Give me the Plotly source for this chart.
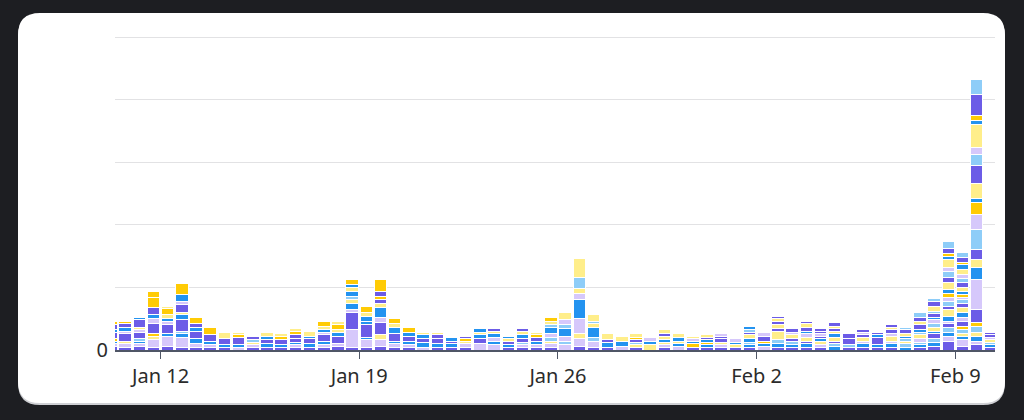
import pandas as pd
import plotly.graph_objects as go

# 12-hour buckets, each bar centred in its bucket (06:00 / 18:00)
bucket_mid = pd.date_range("2025-01-10 06:00", periods=63, freq="12h")

tick_dates = ["2025-01-12", "2025-01-19", "2025-01-26", "2025-02-02", "2025-02-09"]
tick_labels = ["Jan 12", "Jan 19", "Jan 26", "Feb 2", "Feb 9"]

y_ticks = [0, 50, 100, 150, 200, 250]
y_labels = ["0", "", "", "", "", ""]

# palette
P = "#6c5ce7"   # purple
L = "#d6c8fb"   # lavender
Y = "#ffee8a"   # light yellow
G = "#ffcb05"   # gold
B = "#2393f0"   # blue
C = "#8ecdf8"   # light blue

# series, bottom of the stack first
s01 = [3,2,3,2,3,2,2,2,2,0, 2,2,2,2,2,2,3,2,2,3, 2,2,0,2,2,2,0,0,2,2, 2,2,0,3,2,2,0,2,0,2, 0,2,2,2,2,2,0,2,2,2, 2,0,2,2,2,2,0,2,3,7, 3,4,2]
s02 = [2,3,2,6,8,8,3,2,0,2, 2,0,0,2,0,2,2,14,6,5, 3,2,2,0,0,3,5,4,0,2, 2,3,4,6,5,0,3,0,0,2, 3,0,0,2,0,0,3,0,0,0, 2,0,0,0,0,0,0,0,0,4, 5,3,0]
s03 = [2,0,2,0,2,3,4,3,2,2, 0,3,2,2,3,3,0,0,2,0, 2,3,4,3,3,0,0,3,2,0, 3,0,0,0,0,4,4,0,0,0, 2,0,2,0,0,2,2,3,2,3, 0,3,0,3,2,3,2,2,3,3, 3,4,2]
s04 = [0,2,0,3,0,0,0,0,0,0, 2,0,0,0,0,0,0,0,0,4, 0,0,0,0,0,2,0,0,0,0, 0,2,0,4,0,0,0,2,4,2, 2,0,0,2,2,0,0,0,0,0, 3,0,0,0,0,0,0,0,0,0, 2,3,0]
s05 = [0,0,2,0,0,2,0,0,0,0, 2,0,0,0,0,0,0,0,0,0, 0,0,0,0,0,0,0,0,0,2, 0,3,3,0,3,0,0,2,0,0, 0,0,0,0,0,2,0,3,3,0, 0,2,2,0,0,0,3,2,3,4, 3,5,2]
s06 = [2,0,0,2,0,0,0,0,0,0, 0,0,0,0,0,0,0,0,0,0, 0,0,0,0,0,2,0,0,0,0, 0,0,0,0,0,0,0,0,0,0, 0,3,2,0,0,0,2,0,0,0, 0,0,0,0,0,0,0,0,0,0, 3,3,0]
s07 = [5,6,5,8,7,9,6,5,5,6, 0,3,4,3,4,5,6,14,10,10, 6,4,3,4,2,0,4,0,3,3, 0,0,0,0,0,2,0,2,0,0, 0,0,0,3,0,0,4,0,2,2, 0,2,0,0,0,0,0,0,4,3, 4,10,0]
s08 = [0,2,2,4,3,0,0,0,0,0, 0,0,0,0,0,2,0,2,0,4, 0,0,0,0,0,0,0,3,0,0, 0,3,4,12,0,0,0,0,0,0, 0,0,0,0,0,0,0,0,0,0, 0,0,0,2,0,2,0,3,0,2, 3,24,0]
s09 = [2,3,0,3,2,4,3,0,0,0, 0,3,0,0,2,2,3,5,3,8, 5,3,3,0,3,0,3,3,0,3, 0,5,6,15,8,0,0,0,3,2, 3,2,2,0,2,3,0,0,0,0, 2,0,0,0,0,0,0,0,2,4, 4,10,0]
s10 = [0,0,2,0,3,2,0,0,0,0, 0,3,0,0,0,3,2,3,0,3, 3,0,0,0,0,0,2,2,2,3, 0,0,0,0,3,5,4,0,0,3, 0,0,0,0,0,3,0,7,3,3, 0,3,0,3,0,4,2,3,3,5, 4,6,2]
s11 = [4,3,6,6,0,6,3,0,0,0, 3,0,0,3,0,0,0,0,0,3, 0,0,0,3,0,2,0,2,0,2, 3,0,0,0,0,0,0,0,0,2, 0,0,2,2,0,2,0,2,0,0, 2,0,5,0,6,0,0,0,0,3, 3,8,0]
s12 = [0,0,0,0,0,0,0,0,0,0, 0,0,0,0,0,0,0,3,0,0, 0,0,0,0,0,0,0,0,0,0, 0,2,3,0,2,0,0,0,0,0, 0,0,0,0,0,2,0,0,0,0, 0,0,0,0,0,0,2,2,3,4, 3,16,0]
s13 = [0,0,0,0,0,3,0,0,0,0, 0,0,0,0,0,0,0,0,0,0, 0,0,0,0,0,0,0,0,0,0, 0,0,4,5,0,0,0,0,3,0, 0,2,0,2,3,0,3,0,2,3, 2,0,0,0,0,2,0,0,3,3, 2,12,2]
s14 = [3,2,0,8,5,0,5,6,0,2, 0,0,3,3,0,4,4,0,0,3, 0,4,0,0,0,0,0,0,0,0, 2,0,0,0,0,0,0,2,0,0, 0,0,0,0,0,0,0,0,0,0, 0,0,0,0,0,0,0,0,0,3, 2,10,0]
s15 = [0,0,2,0,0,5,0,0,0,0, 0,0,0,0,0,0,0,4,4,0, 0,0,0,0,0,0,3,0,2,0, 0,0,0,0,0,0,0,0,0,0, 0,0,0,0,0,3,0,0,0,2, 0,3,0,0,0,0,2,2,2,3, 3,3,0]
s16 = [0,0,0,0,2,0,0,0,5,2, 0,0,2,2,4,0,3,0,3,0, 0,0,2,2,0,0,0,0,0,0, 2,3,6,4,5,0,0,3,0,3, 3,2,2,0,0,0,0,3,0,0, 0,2,0,0,0,0,2,0,0,6, 3,12,0]
s17 = [0,0,0,0,0,0,0,0,0,0, 0,0,0,0,0,0,0,0,0,4, 0,0,0,0,0,0,0,0,0,0, 0,0,0,0,0,0,0,0,0,0, 0,0,0,0,0,0,0,3,3,3, 2,2,0,2,0,3,0,4,3,4, 4,14,2]
s18 = [0,0,0,0,0,0,0,0,0,0, 0,0,0,0,0,0,0,0,0,0, 0,0,0,0,0,0,0,0,0,0, 0,0,0,9,0,0,0,0,0,0, 0,0,0,0,0,0,0,0,0,0, 0,0,0,0,0,0,0,0,2,5, 3,9,0]
s19 = [0,0,0,0,0,0,0,0,0,0, 0,0,0,0,0,0,0,0,0,0, 0,0,0,0,0,0,0,0,0,0, 0,0,0,0,0,0,0,0,0,0, 0,0,0,0,0,0,0,0,0,0, 0,0,0,2,0,0,0,0,0,3, 3,6,0]
s20 = [0,0,0,0,0,0,0,0,0,0, 0,0,0,0,0,0,0,3,0,0, 0,0,0,0,0,0,0,0,0,0, 0,0,0,15,0,0,0,0,0,0, 0,0,0,0,0,0,0,2,0,3, 0,2,0,0,0,2,0,3,4,6, 4,18,0]
s21 = [0,0,0,0,0,0,0,0,0,0, 0,0,0,0,0,0,0,2,0,0, 0,0,0,0,0,0,0,0,0,0, 0,0,0,0,0,0,0,0,0,0, 0,0,0,0,0,0,0,0,0,0, 0,0,0,0,2,0,0,0,0,3, 4,3,0]
s22 = [0,0,0,5,0,9,0,0,0,0, 0,0,0,0,0,0,0,4,5,9, 4,0,0,0,0,0,0,0,0,0, 0,3,0,0,0,0,0,0,0,0, 0,0,0,0,0,0,0,0,0,0, 0,0,0,0,0,0,0,0,0,2, 2,4,0]
s23 = [0,0,0,0,0,0,0,0,0,0, 0,0,0,0,0,0,0,0,0,0, 0,0,0,0,0,0,0,0,0,0, 0,0,0,0,0,0,0,0,0,0, 0,0,0,0,0,0,0,2,0,2, 2,3,4,2,2,2,3,3,4,4, 4,17,2]
s24 = [0,0,0,0,0,0,0,0,0,0, 0,0,0,0,0,0,0,0,0,0, 0,0,0,0,0,0,0,0,0,0, 0,0,0,0,0,0,0,0,0,0, 0,0,0,0,0,0,0,0,0,0, 0,0,0,0,0,0,2,4,2,6, 4,12,0]

series = [s01, s02, s03, s04, s05, s06, s07, s08, s09, s10, s11, s12,
          s13, s14, s15, s16, s17, s18, s19, s20, s21, s22, s23, s24]
series_colors = [P, L, B, Y, C, G, P, L, B, Y, P, C,
                 L, G, B, Y, P, C, L, Y, B, G, P, C]

# plot area in pixels (1024 x 420 page)
PL, PR, PT, PB = 115, 29, 35, 70
PW, PH = 1024 - PL - PR, 420 - PT - PB


def px(x, y):
    """pixel -> paper coords"""
    return (x - PL) / PW, (420 - PB - y) / PH


def rounded_rect(x0, y0, x1, y1, r):
    def p(x, y):
        a, b = px(x, y)
        return f"{a:.5f},{b:.5f}"
    pts = [
        f"M{p(x0 + r, y0)}",
        f"L{p(x1 - r, y0)}",
        f"Q{p(x1, y0)} {p(x1, y0 + r)}",
        f"L{p(x1, y1 - r)}",
        f"Q{p(x1, y1)} {p(x1 - r, y1)}",
        f"L{p(x0 + r, y1)}",
        f"Q{p(x0, y1)} {p(x0, y1 - r)}",
        f"L{p(x0, y0 + r)}",
        f"Q{p(x0, y0)} {p(x0 + r, y0)}",
    ]
    return " ".join(pts) + " Z"


fig = go.Figure()
for i, (vals, col) in enumerate(zip(series, series_colors)):
    fig.add_trace(go.Bar(
        x=bucket_mid,
        y=vals,
        name=f"series {i + 1}",
        marker=dict(color=col, line=dict(color="white", width=1)),
        showlegend=False,
        hovertemplate="%{x|%b %d %H:%M}: %{y}<extra></extra>",
    ))

fig.update_layout(
    barmode="stack",
    bargap=0.12,
    width=1024,
    height=420,
    margin=dict(l=PL, r=PR, t=PT, b=PB),
    paper_bgcolor="#1d1e22",
    plot_bgcolor="rgba(0,0,0,0)",
    font=dict(family="Noto Sans", color="#2b2b2b", size=20),
    shapes=[
        dict(type="path", xref="paper", yref="paper", layer="below",
             path=rounded_rect(18, 14, 1005, 405, 22),
             fillcolor="#cfd0d4", line=dict(width=0)),
        dict(type="path", xref="paper", yref="paper", layer="below",
             path=rounded_rect(18, 13, 1005, 403, 22),
             fillcolor="white", line=dict(width=0)),
    ],
)

fig.update_xaxes(
    type="date",
    range=["2025-01-10 09:30", "2025-02-10 09:30"],
    tickvals=tick_dates,
    ticktext=tick_labels,
    ticks="outside",
    ticklen=7,
    tickwidth=1,
    tickcolor="#4f5666",
    showline=True,
    linecolor="#4f5666",
    linewidth=2,
    showgrid=False,
    tickfont=dict(size=20, color="#2b2b2b"),
)

fig.update_yaxes(
    range=[0, 251.6],
    tickvals=y_ticks,
    ticktext=y_labels,
    showgrid=True,
    gridcolor="#e2e2e4",
    gridwidth=1,
    zeroline=False,
    ticks="",
    ticklabelstandoff=6,
    tickfont=dict(size=20, color="#2b2b2b"),
)

fig.write_html("out.html", config={"displayModeBar": False},
               post_script="document.body.style.margin='0';")
